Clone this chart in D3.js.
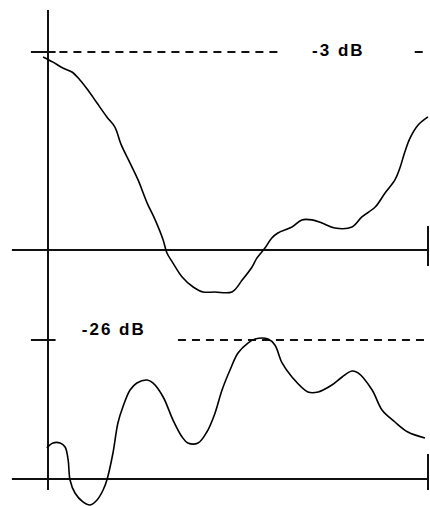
<!DOCTYPE html>
<html>
<head>
<meta charset="utf-8">
<script src="https://cdn.jsdelivr.net/npm/d3@7"></script>
<style>
  html, body { margin: 0; padding: 0; background: #fff; }
  svg { display: block; }
  .lbl { font-family: "Liberation Sans", Arial, sans-serif; font-weight: bold; font-size: 17px; letter-spacing: 2px; }
</style>
</head>
<body>
<div id="chart"></div>
<script>
//Datos (eje x normalizado 0-1, nivel normalizado: 0 = eje, 1 = línea de referencia)
const topX = [-0.013, 0.013, 0.039, 0.063, 0.084, 0.105, 0.129, 0.155, 0.176, 0.192, 0.216, 0.237, 0.261, 0.282, 0.303, 0.313,
  0.329, 0.353, 0.382, 0.408, 0.439, 0.484, 0.511, 0.537, 0.55, 0.571, 0.589, 0.605, 0.642, 0.668, 0.695, 0.721, 0.755,
  0.8, 0.826, 0.861, 0.887, 0.913, 0.926, 0.939, 0.953, 0.974, 1.0];
const topY = [0.975, 0.949, 0.919, 0.899, 0.859, 0.808, 0.742, 0.672, 0.621, 0.535, 0.439, 0.354, 0.237, 0.152, 0.051, -0.015,
  -0.066, -0.136, -0.187, -0.212, -0.212, -0.212, -0.152, -0.086, -0.040, 0.010, 0.061, 0.086, 0.116, 0.152, 0.152, 0.136, 0.111,
  0.116, 0.167, 0.217, 0.288, 0.354, 0.414, 0.495, 0.566, 0.631, 0.672];

const bottomX = [-0.003, 0.013, 0.032, 0.045, 0.053, 0.058, 0.071, 0.092, 0.111, 0.129, 0.145, 0.155, 0.171, 0.184, 0.197,
  0.216, 0.234, 0.261, 0.276, 0.303, 0.329, 0.353, 0.368, 0.395, 0.418, 0.439, 0.458, 0.479, 0.5, 0.526, 0.545, 0.579,
  0.597, 0.616, 0.642, 0.684, 0.711, 0.747, 0.774, 0.8, 0.816, 0.853, 0.879, 0.913, 0.947, 0.992];
const bottomY = [0.223, 0.259, 0.259, 0.230, 0.137, -0.007, -0.101, -0.165, -0.187, -0.151, -0.079, -0.007, 0.187, 0.403, 0.518,
  0.640, 0.691, 0.712, 0.691, 0.590, 0.424, 0.302, 0.259, 0.259, 0.338, 0.470, 0.640, 0.784, 0.906, 0.978, 1.007, 1.007,
  0.964, 0.835, 0.734, 0.626, 0.626, 0.676, 0.734, 0.777, 0.763, 0.640, 0.496, 0.410, 0.338, 0.295];

const labels = ['-3 dB', '-26 dB'];

const width = 430, height = 506;

let svg = d3.select('#chart').append('svg')
  .attr('width', width)
  .attr('height', height);

//Escalas
let x = d3.scaleLinear().domain([0, 1]).range([48, 428]);
let yTop = d3.scaleLinear().domain([0, 1]).range([250, 52]);
let yBot = d3.scaleLinear().domain([0, 1]).range([479, 340]);

const AXIS_COLOR = '#111';

//Eje vertical (común a los dos paneles)
svg.append('line')
  .attr('x1', x(0)).attr('x2', x(0))
  .attr('y1', yTop(1.212)).attr('y2', yBot(-0.079))
  .attr('stroke', AXIS_COLOR).attr('stroke-width', 2);

function panel(y, xs, ys, label, tickTop, tickBottom, dashFrom, gap, labelX, labelY) {
  //Eje horizontal
  svg.append('line')
    .attr('x1', x(-0.095)).attr('x2', x(1))
    .attr('y1', y(0)).attr('y2', y(0))
    .attr('stroke', AXIS_COLOR).attr('stroke-width', 2);

  //Marca final
  svg.append('line')
    .attr('x1', x(1)).attr('x2', x(1))
    .attr('y1', y(tickTop)).attr('y2', y(tickBottom))
    .attr('stroke', AXIS_COLOR).attr('stroke-width', 2);

  //Marca de nivel
  svg.append('line')
    .attr('x1', x(-0.045)).attr('x2', x(0.02))
    .attr('y1', y(1)).attr('y2', y(1))
    .attr('stroke', AXIS_COLOR).attr('stroke-width', 2);

  //Línea discontinua
  let segs = gap ? [[dashFrom, gap[0]], [gap[1], 1]] : [[dashFrom, 1]];
  segs.forEach(function(s) {
    svg.append('line')
      .attr('x1', x(s[0])).attr('x2', x(s[1]))
      .attr('y1', y(1)).attr('y2', y(1))
      .attr('stroke', AXIS_COLOR).attr('stroke-width', 2)
      .attr('stroke-dasharray', '8,6');
  });

  svg.append('text')
    .attr('class', 'lbl')
    .attr('x', x(labelX))
    .attr('y', y(labelY))
    .text(label);

  //Curva
  let line = d3.line()
    .x(function(d) { return x(d[0]); })
    .y(function(d) { return y(d[1]); })
    .curve(d3.curveCatmullRom);

  svg.append('path')
    .datum(d3.zip(xs, ys))
    .attr('fill', 'none')
    .attr('stroke', '#000')
    .attr('stroke-width', 1.6)
    .attr('d', line);
}

panel(yTop, topX, topY, labels[0], 0.121, -0.081, 0.03, [0.61, 0.965], 0.695, 0.98);
panel(yBot, bottomX, bottomY, labels[1], 0.18, -0.079, 0.342, null, 0.089, 1.036);
</script>
</body>
</html>
